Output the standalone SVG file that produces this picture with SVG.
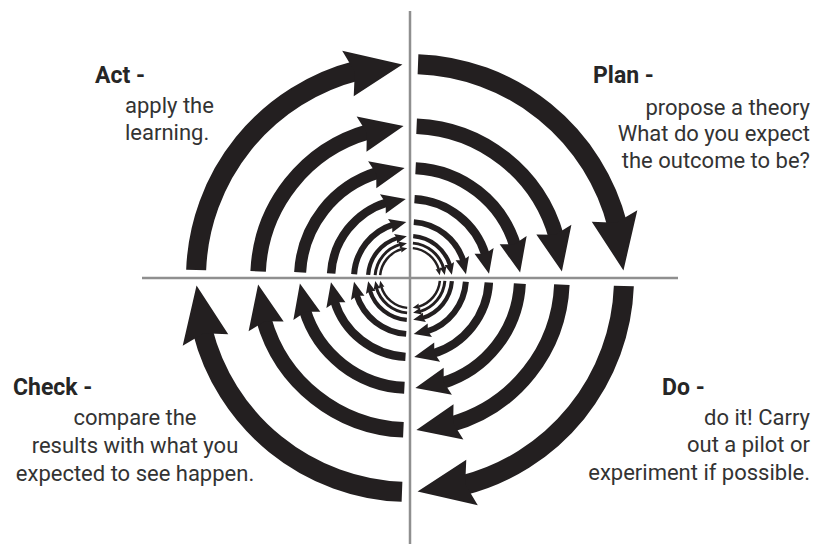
<svg xmlns="http://www.w3.org/2000/svg" width="814" height="544" viewBox="0 0 814 544">
<style>
.axis{stroke:#8f8f8f;stroke-width:2.5;fill:none}
.arc{fill:none;stroke:#231f20;stroke-linecap:butt;marker-end:url(#head)}
.h{font-family:Roboto,"Liberation Sans",sans-serif;font-weight:bold;font-size:23px;fill:#262626}
.b{font-family:Roboto,"Liberation Sans",sans-serif;font-size:22px;fill:#333333}
</style>
<defs>
<marker id="head" markerUnits="strokeWidth" orient="auto" refX="0" refY="0" markerWidth="4" markerHeight="4" overflow="visible">
<path d="M-0.5,-1.15 L2.25,0.26 L-0.5,1.2 L-0.15,0.03 Z" fill="#231f20"/>
</marker>
<g id="quadrant">
<path class="arc" stroke-width="20" d="M8,-213.85 A214,214 0 0 1 207.47,-52.46"/>
<path class="arc" stroke-width="15.5" d="M6.6,-151.86 A152,152 0 0 1 146.34,-41.08"/>
<path class="arc" stroke-width="12" d="M5.6,-109.86 A110,110 0 0 1 105.2,-32.12"/>
<path class="arc" stroke-width="8.5" d="M4.5,-78.87 A79,79 0 0 1 75.53,-23.15"/>
<path class="arc" stroke-width="6" d="M3.8,-55.87 A56,56 0 0 1 53.35,-17.03"/>
<path class="arc" stroke-width="4.2" d="M3.2,-41.88 A42,42 0 0 1 40.09,-12.51"/>
<path class="arc" stroke-width="3" d="M2.9,-34.88 A35,35 0 0 1 33.61,-9.77"/>
<path class="arc" stroke-width="2.5" d="M2.8,-29.87 A30,30 0 0 1 28.83,-8.29"/>
</g>
</defs>
<g id="axes">
<line class="axis" x1="410" y1="11" x2="410" y2="544"/>
<line class="axis" x1="142" y1="278" x2="678" y2="278"/>
</g>
<g id="connectors">
<use href="#quadrant" transform="translate(410,278)"/>
<use href="#quadrant" transform="translate(410,278) rotate(90)"/>
<use href="#quadrant" transform="translate(410,278) rotate(180)"/>
<use href="#quadrant" transform="translate(410,278) rotate(270)"/>
</g>
<g id="act">
<text class="h" x="95" y="83">Act -</text>
<text class="b" x="125" y="113">apply the</text>
<text class="b" x="125" y="140">learning.</text>
</g>
<g id="plan">
<text class="h" x="593" y="83">Plan -</text>
<text class="b" x="810" y="115" text-anchor="end">propose a theory</text>
<text class="b" x="810" y="141" text-anchor="end">What do you expect</text>
<text class="b" x="810" y="168" text-anchor="end">the outcome to be?</text>
</g>
<g id="do">
<text class="h" x="662" y="395">Do -</text>
<text class="b" x="810" y="425" text-anchor="end">do it! Carry</text>
<text class="b" x="810" y="452" text-anchor="end">out a pilot or</text>
<text class="b" x="810" y="480" text-anchor="end">experiment if possible.</text>
</g>
<g id="check">
<text class="h" x="13" y="395">Check -</text>
<text class="b" x="135" y="425" text-anchor="middle">compare the</text>
<text class="b" x="135" y="453" text-anchor="middle">results with what you</text>
<text class="b" x="135" y="481" text-anchor="middle">expected to see happen.</text>
</g>
</svg>
